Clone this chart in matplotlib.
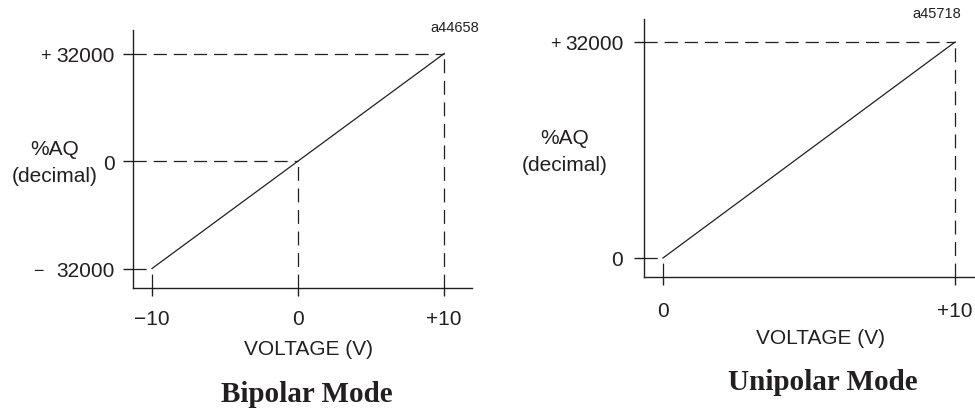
import numpy as np
import matplotlib.pyplot as plt

plt.rcParams['font.family'] = ['Liberation Sans', 'DejaVu Sans']
plt.rcParams['lines.scale_dashes'] = False

INK = '#231f20'

# datos de los dos modos (tensión -> valor %AQ)
bip_volts = [-10, 0, 10]
bip_counts = [-32000, 0, 32000]
bip_xlabels = ['\u221210', '0', '+10']
bip_ylabels = ['32000', '0', '32000']
bip_signs = ['\u2212', '', '+']

uni_volts = [0, 10]
uni_counts = [0, 32000]
uni_xlabels = ['0', '+10']
uni_ylabels = ['0', '32000']
uni_signs = ['', '+']

fig = plt.figure(figsize=(9.75, 4.1), dpi=100)

# ejes colocados en píxeles de la figura (izq, abajo, ancho, alto)
ax1 = fig.add_axes([133/975, 1-289/410, 339/975, 258/410])
ax2 = fig.add_axes([644/975, 1-278/410, 331/975, 258/410])


def dibuja(ax, volts, counts, xlab, ylab, signs, xlim, ylim, xpad, ypad, sign_off):
	ax.set_xlim(*xlim)
	ax.set_ylim(*ylim)
	for s in ['top', 'right']:
		ax.spines[s].set_visible(False)
	for s in ['left', 'bottom']:
		ax.spines[s].set_linewidth(1.0)
		ax.spines[s].set_color(INK)

	# recta de transferencia
	ax.plot(volts, counts, color=INK, lw=0.9)

	# líneas discontinuas hacia los ejes
	ax.hlines(counts, xlim[0], volts, colors=INK, lw=0.9, linestyles=(0, (9.5, 5)))
	ax.vlines(volts, ylim[0], counts, colors=INK, lw=0.9, linestyles=(0, (10, 5.5)))

	ax.set_xticks(volts, xlab)
	ax.set_yticks(counts, ylab)
	ax.tick_params(axis='x', direction='out', length=6, width=1, pad=xpad,
		labelsize=15, colors=INK)
	ax.tick_params(axis='y', direction='out', length=7, width=1, pad=ypad,
		labelsize=15, colors=INK)

	# signos delante de 32000
	for c, s in zip(counts, signs):
		if s:
			ax.annotate(s, xy=(0, c), xycoords=('axes fraction', 'data'),
				xytext=(sign_off[s], 0), textcoords='offset points',
				ha='center', va='center_baseline', fontsize=13, color=INK)


dibuja(ax1, bip_volts, bip_counts, bip_xlabels, bip_ylabels, bip_signs,
	(-11.3, 11.9), (-37800, 39000), 9, 6, {'+': -63, '\u2212': -68})
dibuja(ax2, uni_volts, uni_counts, uni_xlabels, uni_ylabels, uni_signs,
	(-0.65, 10.68), (-2815, 35400), 11, 8, {'+': -64})

for ax, lx in [(ax1, 0.519), (ax2, 0.532)]:
	ax.set_xlabel('VOLTAGE (V)', fontsize=15, color=INK)
	ax.xaxis.set_label_coords(lx, -0.198)
	ax.set_ylabel('%AQ\n(decimal)', fontsize=15, color=INK, rotation=0,
		ha='center', va='center', linespacing=1.5)

ax1.yaxis.set_label_coords(-0.230, 0.488)
ax2.yaxis.set_label_coords(-0.239, 0.488)

fig.text(307/975, 1-395/410, 'Bipolar Mode', ha='center', va='center',
	family='Liberation Serif', weight='bold', fontsize=21, color=INK)
fig.text(823/975, 1-383/410, 'Unipolar Mode', ha='center', va='center',
	family='Liberation Serif', weight='bold', fontsize=21, color=INK)

fig.text(479/975, 1-28/410, 'a44658', ha='right', va='center', fontsize=10.5, color=INK)
fig.text(961/975, 1-14/410, 'a45718', ha='right', va='center', fontsize=10.5, color=INK)

fig.savefig('out.png', dpi=100)
